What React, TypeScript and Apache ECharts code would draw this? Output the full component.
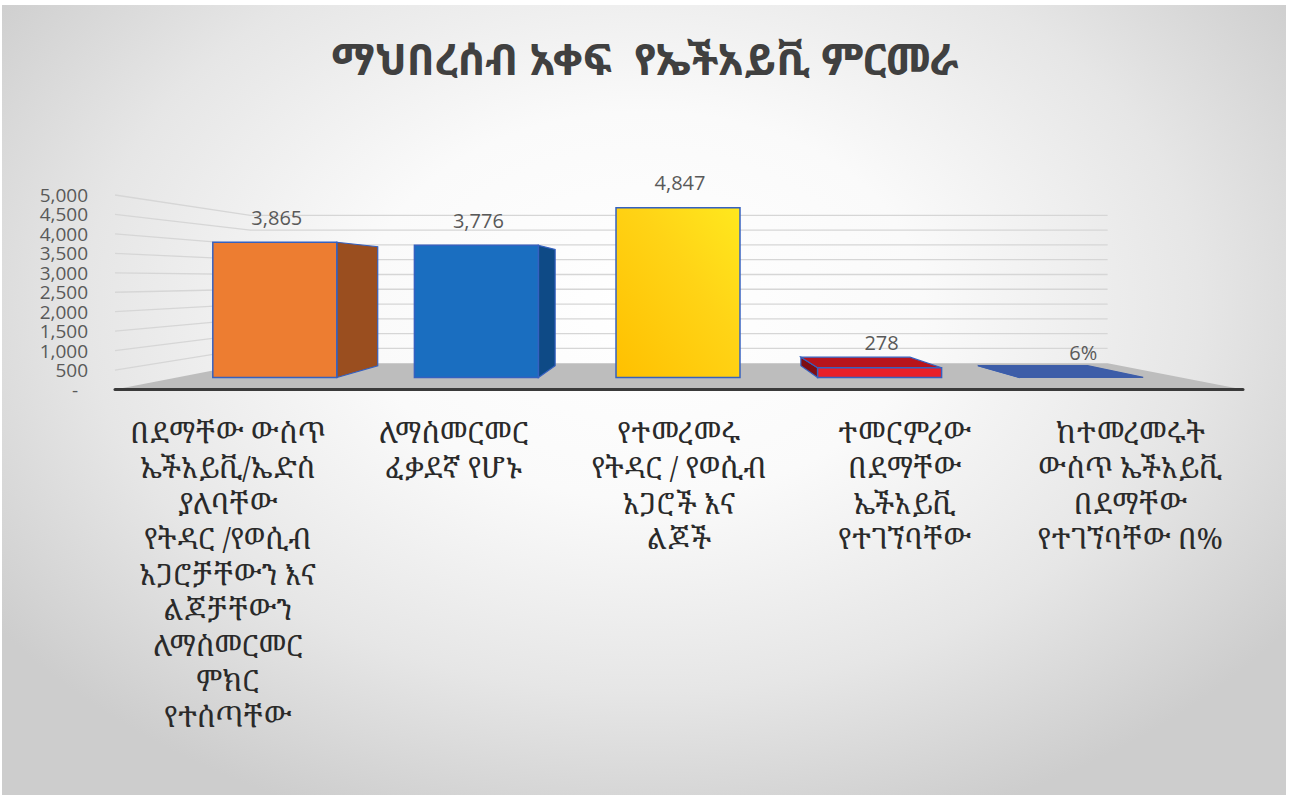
import React, { useEffect, useRef } from "react";
import * as echarts from "echarts";

const title = "ማህበረሰብ አቀፍ  የኤችአይቪ ምርመራ";
const categories = [
  "በደማቸው ውስጥ\nኤችአይቪ/ኤድስ\nያለባቸው\nየትዳር /የወሲብ\nአጋሮቻቸውን እና\nልጆቻቸውን\nለማስመርመር\nምክር\nየተሰጣቸው",
  "ለማስመርመር\nፈቃደኛ የሆኑ",
  "የተመረመሩ\nየትዳር / የወሲብ\nአጋሮች እና\nልጆች",
  "ተመርምረው\nበደማቸው\nኤችአይቪ\nየተገኘባቸው",
  "ከተመረመሩት\nውስጥ ኤችአይቪ\nበደማቸው\nየተገኘባቸው በ%",
];
const values = [3865, 3776, 4847, 278, 6];
const valueSuffix = ["", "", "", "", "%"];
const yTicks = [0, 500, 1000, 1500, 2000, 2500, 3000, 3500, 4000, 4500, 5000];

// styles
const frontColors = ["#ED7D31", "#1A6EC0", "yellow", "#E8202A", "#3D5DA8"];
const sideColors = ["#9A4E1F", "#0E4A86", "#C89400", "#7E0D12", "#2E4A8C"];
const topColors = ["#F59A5A", "#3C8AD6", "#FFE24D", "#B8141C", "#3D5DA8"];
const outline = "#3561C0";

const ETH = "'Noto Sans Ethiopic', 'Noto Serif Ethiopic', 'Abyssinica SIL', 'Noto Sans', sans-serif";
const ETH_SERIF = "'Noto Serif Ethiopic', 'Abyssinica SIL', 'Noto Sans Ethiopic', 'Noto Sans', serif";
const NUM = "'Open Sans', 'Noto Sans', sans-serif";

const BAR_DEPTH = 0.12;
const FLOOR_DEPTH = 0.24;
const BAR_RATIO = 0.615;
const HORIZON_BAR = 2800;
const HORIZON_GRID = 2820;

function fmt(v: number) {
  return v.toLocaleString("en-US");
}

export default function App() {
  const ref = useRef<HTMLDivElement>(null);
  useEffect(() => {
    if (!ref.current) return;
    const chart = echarts.init(ref.current, null, { renderer: "svg" });

    const renderDecor = (params: any, api: any) => {
      const cs = params.coordSys;
      const left = cs.x;
      const right = cs.x + cs.width;
      const v = api.value(1);
      const y = api.coord([0, v])[1];
      const vp = [cs.x + cs.width / 2, api.coord([0, HORIZON_GRID])[1]];
      const p = (x: number, yy: number) => [x + FLOOR_DEPTH * (vp[0] - x), yy + FLOOR_DEPTH * (vp[1] - yy)];
      const children: any[] = [];
      if (v === 0) {
        children.push({
          type: "polygon",
          shape: { points: [[left, y], [right, y], p(right, y), p(left, y)] },
          style: { fill: "#bdbdbd" },
        });
      } else {
        children.push({
          type: "polyline",
          shape: { points: [[left, y], p(left, y), p(right, y)] },
          style: { stroke: "#d6d6d6", lineWidth: 1.3, fill: "none" },
        });
      }
      return { type: "group", children };
    };

    const renderBars = (params: any, api: any) => {
      const i = api.value(0);
      const v = api.value(1);
      const base = api.coord([i, 0]);
      const top = api.coord([i, v]);
      const vp = api.coord([2, HORIZON_BAR]);
      const bw = api.size([1, 0])[0] * BAR_RATIO;
      const l = base[0] - bw / 2;
      const r = base[0] + bw / 2;
      const yT = top[1];
      const yB = base[1];
      const p = (x: number, y: number) => [x + BAR_DEPTH * (vp[0] - x), y + BAR_DEPTH * (vp[1] - y)];
      const children: any[] = [];
      const front =
        frontColors[i] === "yellow"
          ? new echarts.graphic.LinearGradient(0, 1, 1, 0, [
              { offset: 0, color: "#FFC000" },
              { offset: 0.6, color: "#FFD416" },
              { offset: 1, color: "#FFE81E" },
            ])
          : frontColors[i];
      if (r < vp[0] - 1) {
        children.push({
          type: "polygon",
          shape: { points: [[r, yT], p(r, yT), p(r, yB), [r, yB]] },
          style: { fill: sideColors[i], stroke: outline, lineWidth: 1.2 },
        });
      } else if (l > vp[0] + 1) {
        children.push({
          type: "polygon",
          shape: { points: [[l, yT], p(l, yT), p(l, yB), [l, yB]] },
          style: { fill: sideColors[i], stroke: outline, lineWidth: 1.2 },
        });
      }
      if (yT > vp[1]) {
        children.push({
          type: "polygon",
          shape: { points: [[l, yT], [r, yT], p(r, yT), p(l, yT)] },
          style: { fill: topColors[i], stroke: i === 4 ? topColors[i] : outline, lineWidth: 1.2 },
        });
      }
      if (yB - yT > 1) {
        children.push({
          type: "rect",
          shape: { x: l, y: yT, width: r - l, height: yB - yT },
          style: { fill: front, stroke: outline, lineWidth: 1.5 },
        });
      }
      children.push({
        type: "text",
        style: {
          text: fmt(v) + valueSuffix[i],
          x: base[0] + 2,
          y: yT - 25,
          align: "center",
          verticalAlign: "middle",
          fill: "#595959",
          font: `20px ${NUM}`,
        },
      });
      return { type: "group", children };
    };

    chart.setOption({
      animation: false,
      backgroundColor: "transparent",
      title: {
        text: title,
        left: "center",
        top: 32,
        textStyle: { fontFamily: ETH, fontWeight: "bold", fontSize: 43, color: "#404040" },
      },
      grid: [
        { left: 115, right: 47, top: 195, bottom: 798 - 389.5 },
        { left: 174, right: 1290 - 1182, top: 202.5, bottom: 798 - 377.5 },
      ],
      xAxis: [
        {
          type: "category",
          gridIndex: 0,
          data: categories,
          z: 5,
          axisLine: { show: true, lineStyle: { color: "#3a3a3a", width: 3 } },
          axisTick: { show: false },
          axisLabel: {
            interval: 0,
            margin: 24,
            fontFamily: ETH_SERIF,
            fontSize: 29,
            lineHeight: 35.5,
            color: "#2a2a2a",
            align: "center",
          },
        },
        {
          type: "category",
          gridIndex: 1,
          data: categories,
          show: false,
        },
      ],
      yAxis: [
        {
          type: "value",
          gridIndex: 0,
          min: 0,
          max: 5000,
          interval: 500,
          axisLine: { show: false },
          axisTick: { show: false },
          splitLine: { show: false },
          axisLabel: {
            margin: 27,
            showMinLabel: true,
            showMaxLabel: true,
            hideOverlap: false,
            fontFamily: NUM,
            fontSize: 19,
            lineHeight: 19,
            color: "#595959",
            formatter: (v: number) => (v === 0 ? "{d|-}" : fmt(v)),
            rich: { d: { padding: [0, 10, 0, 0], fontSize: 19, lineHeight: 19, color: "#595959", fontFamily: NUM } },
          },
        },
        {
          type: "value",
          gridIndex: 1,
          min: 0,
          max: 5000,
          show: false,
        },
      ],
      series: [
        {
          type: "custom",
          xAxisIndex: 0,
          yAxisIndex: 0,
          z: 1,
          silent: true,
          data: yTicks.map((t) => [0, t]),
          encode: { x: 0, y: 1 },
          renderItem: renderDecor,
        },
        {
          type: "custom",
          xAxisIndex: 1,
          yAxisIndex: 1,
          z: 3,
          data: values.map((v, i) => [i, v]),
          encode: { x: 0, y: 1 },
          renderItem: renderBars,
        },
      ],
    });
    return () => chart.dispose();
  }, []);

  return (
    <div style={{ position: "absolute", left: 0, top: 0, width: 1290, height: 798, background: "#ffffff" }}>
      <div
        style={{
          position: "absolute",
          left: 2,
          top: 5,
          right: 4,
          bottom: 3,
          background:
            "radial-gradient(ellipse 62% 70% at 50% 38%, #ffffff 0%, #fafafa 35%, #e6e6e6 70%, #cdcdcd 100%)",
        }}
      />
      <div ref={ref} style={{ position: "absolute", left: 0, top: 0, width: 1290, height: 798 }} />
    </div>
  );
}
